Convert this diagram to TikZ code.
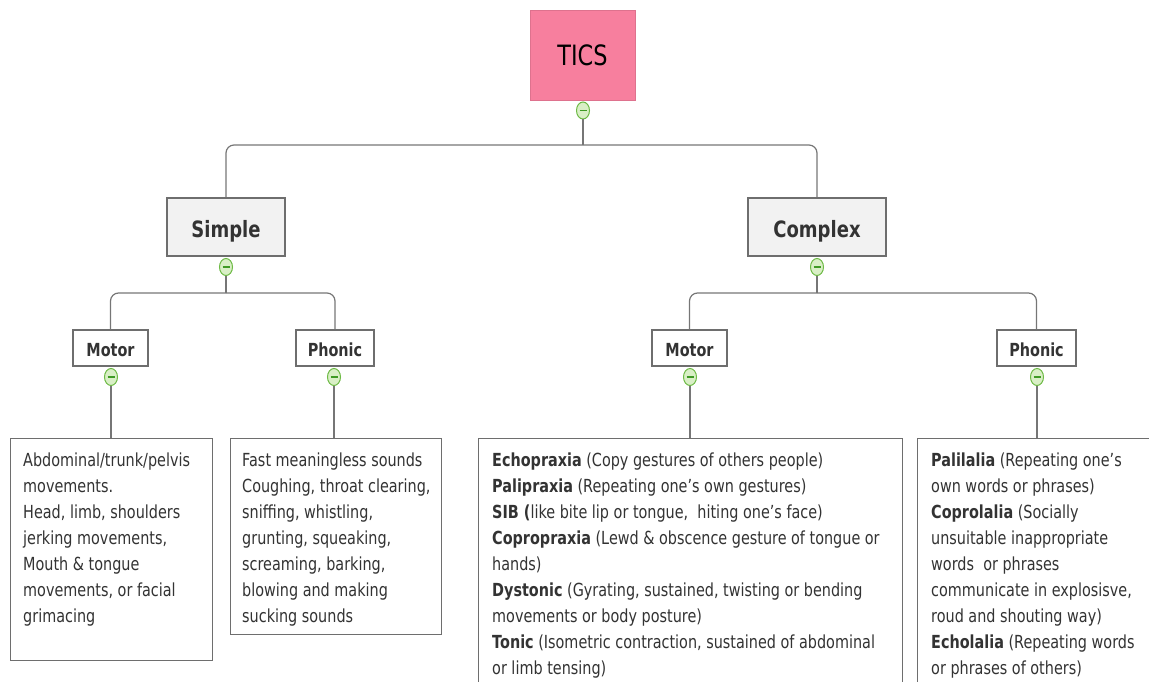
\documentclass[tikz,border=0pt]{standalone}
\usepackage{fontspec}
\setmainfont{DejaVu Sans}[FakeStretch=0.8]
\usetikzlibrary{shapes.geometric}
\definecolor{tpink}{HTML}{F77F9E}
\definecolor{boxfill}{HTML}{F2F2F2}
\definecolor{boxline}{HTML}{6E6E6E}
\definecolor{linegray}{HTML}{767676}
\definecolor{txtgray}{HTML}{333333}
\definecolor{cfill}{HTML}{D9EFC6}
\definecolor{cline}{HTML}{6DBA45}
\definecolor{cminus}{HTML}{3F9A25}
\tikzset{
  topbox/.style={draw=boxline, line width=1.1pt, fill=boxfill, text=txtgray, font=\bfseries\fontsize{22.5}{26}\selectfont, inner sep=0, text height=20.4pt, text depth=0pt},
  subbox/.style={draw=boxline, line width=1.1pt, fill=white, text=txtgray, font=\bfseries\fontsize{18}{22}\selectfont, inner sep=0, minimum height=36, text height=17pt, text depth=0pt},
  leafbox/.style={draw=boxline, line width=1.1pt, fill=white, anchor=north west, inner sep=0},
  txt/.style={anchor=north west, align=left, inner sep=0, text=txtgray, font=\fontsize{18}{26}\selectfont},
  conn/.style={draw=linegray, line width=1.2pt, rounded corners=8},
  collapse/.style={ellipse, draw=cline, fill=cfill, line width=1pt, minimum width=13, minimum height=17, inner sep=0,
    path picture={\draw[cminus, line width=1.4pt] ([xshift=-3.5pt]path picture bounding box.center) -- ([xshift=3.5pt]path picture bounding box.center);}}
}
\begin{document}
\begin{tikzpicture}[x=1pt,y=-1pt]
\useasboundingbox (0,0) rectangle (1149,682);
\clip (0,0) rectangle (1149,682);
% main nodes
\node[fill=tpink, draw=tpink!90!black, line width=0.4pt, minimum width=105, minimum height=90, inner sep=0, text=black, font=\fontsize{28}{30}\selectfont, text height=21pt, text depth=0pt] (tics) at (582.5,55) {TICS};
\node[topbox, minimum width=118, minimum height=58] (simple) at (226,227) {Simple};
\node[topbox, minimum width=138, minimum height=58] (complex) at (817,227) {Complex};
\node[subbox, minimum width=75] (motorS) at (110.5,348) {Motor};
\node[subbox, minimum width=78] (phonS) at (335,348) {Phonic};
\node[subbox, minimum width=75] (motorC) at (689.5,348) {Motor};
\node[subbox, minimum width=79] (phonC) at (1036.5,348) {Phonic};
% leaf boxes
\node[leafbox, minimum width=202, minimum height=222] (boxMS) at (10,438) {};
\node[leafbox, minimum width=211, minimum height=196] (boxPS) at (230,438) {};
\node[leafbox, minimum width=424, minimum height=260] (boxMC) at (478,438) {};
\node[leafbox, minimum width=250, minimum height=260] (boxPC) at (917,438) {};
% collapse markers
\node[collapse] (c0) at (583,110.5) {};
\node[collapse] (cS) at (226,267) {};
\node[collapse] (cC) at (817,267) {};
\node[collapse] (cMS) at (111,377) {};
\node[collapse] (cPS) at (334,377) {};
\node[collapse] (cMC) at (690,377) {};
\node[collapse] (cPC) at (1037,377) {};
% junctions
\coordinate (j0) at (583,145);
\coordinate (jS) at (226,293);
\coordinate (jC) at (817,293);
% connectors
\draw[conn] (c0.south) -- (j0);
\draw[conn] (j0) -| (simple.north);
\draw[conn] (j0) -| (complex.north);
\draw[conn] (cS.south) -- (jS);
\draw[conn] (jS) -| (motorS.north);
\draw[conn] (jS) -| (phonS.north);
\draw[conn] (cC.south) -- (jC);
\draw[conn] (jC) -| (motorC.north);
\draw[conn] (jC) -| (phonC.north);
\draw[conn] (cMS.south) -- (cMS.south |- boxMS.north);
\draw[conn] (cPS.south) -- (cPS.south |- boxPS.north);
\draw[conn] (cMC.south) -- (cMC.south |- boxMC.north);
\draw[conn] (cPC.south) -- (cPC.south |- boxPC.north);
% texts
\node[txt] (tMS) at (23,453) {Abdominal/trunk/pelvis\\movements.\\Head, limb, shoulders\\jerking movements,\\Mouth \& tongue\\movements, or facial\\grimacing};
\node[txt] (tPS) at (242,453) {Fast meaningless sounds\\Coughing, throat clearing,\\sniffing, whistling,\\grunting, squeaking,\\screaming, barking,\\blowing and making\\sucking sounds};
\node[txt] (tMC) at (492,453) {\textbf{Echopraxia} (Copy gestures of others people)\\
\textbf{Palipraxia} (Repeating one’s own gestures)\\
\textbf{SIB (}like bite lip or tongue,\ \ hiting one’s face)\\
\textbf{Copropraxia} (Lewd \& obscence gesture of tongue or\\
hands)\\
\textbf{Dystonic} (Gyrating, sustained, twisting or bending\\
movements or body posture)\\
\textbf{Tonic} (Isometric contraction, sustained of abdominal\\
or limb tensing)};
\node[txt] (tPC) at (931,453) {\textbf{Palilalia} (Repeating one’s\\
own words or phrases)\\
\textbf{Coprolalia} (Socially\\
unsuitable inappropriate\\
words\ \ or phrases\\
communicate in explosisve,\\
roud and shouting way)\\
\textbf{Echolalia} (Repeating words\\
or phrases of others)};
\end{tikzpicture}
\end{document}
